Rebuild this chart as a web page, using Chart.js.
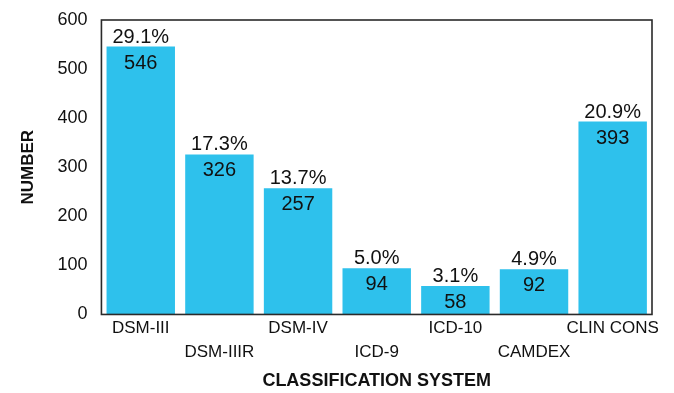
<!DOCTYPE html>
<html>
<head>
<meta charset="utf-8">
<script src="https://cdn.jsdelivr.net/npm/chart.js@4"></script>
<style>
  html, body { margin: 0; padding: 0; background: #fff; }
  #wrap { width: 674px; height: 393px; }
</style>
</head>
<body>
<div id="wrap"><canvas id="chart" width="674" height="393"></canvas></div>
<script>
// Данные диаграммы
const categories = ['DSM-III', 'DSM-IIIR', 'DSM-IV', 'ICD-9', 'ICD-10', 'CAMDEX', 'CLIN CONS'];
const counts = [546, 326, 257, 94, 58, 92, 393];
const percents = ['29.1%', '17.3%', '13.7%', '5.0%', '3.1%', '4.9%', '20.9%'];
const yTicks = [0, 100, 200, 300, 400, 500, 600];

// подписи в два уровня: чётные сверху, нечётные снизу
const xLabels = categories.map((c, i) => i % 2 === 0 ? [c, ''] : ['', c]);

const FONT = '"Liberation Sans", Arial, sans-serif';

// рамка вокруг области графика
const framePlugin = {
    id: 'frame',
    afterDraw(chart) {
        const { ctx, chartArea: a } = chart;
        ctx.save();
        ctx.strokeStyle = '#2a2a2a';
        ctx.lineWidth = 1.6;
        ctx.strokeRect(a.left, a.top, a.right - a.left, a.bottom - a.top);
        ctx.restore();
    }
};

// проценты над столбцами и числа внутри
const barTextPlugin = {
    id: 'barText',
    afterDatasetsDraw(chart) {
        const { ctx } = chart;
        const meta = chart.getDatasetMeta(0);
        ctx.save();
        ctx.fillStyle = '#111';
        ctx.font = '20px ' + FONT;
        ctx.textAlign = 'center';
        ctx.textBaseline = 'alphabetic';
        meta.data.forEach((bar, i) => {
            ctx.fillText(percents[i], bar.x, bar.y - 4);
            ctx.fillText(String(counts[i]), bar.x, bar.y + 22);
        });
        ctx.restore();
    }
};

new Chart(document.getElementById('chart'), {
    type: 'bar',
    data: {
        labels: xLabels,
        datasets: [{
            data: counts,
            backgroundColor: '#2ec1ec',
            borderWidth: 0,
            barPercentage: 0.87,
            categoryPercentage: 1
        }]
    },
    options: {
        responsive: false,
        animation: false,
        layout: { padding: { left: 18, right: 22, top: 20, bottom: 0 } },
        plugins: {
            legend: { display: false },
            tooltip: { enabled: false }
        },
        scales: {
            x: {
                grid: { display: false, drawTicks: false },
                border: { display: false },
                ticks: {
                    color: '#111',
                    font: { family: FONT, size: 17, lineHeight: 1.41 },
                    maxRotation: 0,
                    autoSkip: false,
                    padding: 2
                },
                title: {
                    display: true,
                    text: 'CLASSIFICATION SYSTEM',
                    color: '#111',
                    font: { family: FONT, size: 18, weight: 'bold' },
                    padding: { top: 4, bottom: 1 }
                }
            },
            y: {
                min: 0,
                max: 600,
                afterBuildTicks(axis) {
                    axis.ticks = yTicks.map(v => ({ value: v }));
                },
                afterFit(axis) {
                    axis.paddingTop = 0;
                },
                grid: { display: false, drawTicks: false },
                border: { display: false },
                ticks: {
                    color: '#111',
                    font: { family: FONT, size: 18 },
                    padding: 14
                },
                title: {
                    display: true,
                    text: 'NUMBER',
                    color: '#111',
                    font: { family: FONT, size: 17, weight: 'bold' },
                    padding: { top: 0, bottom: 5 }
                }
            }
        }
    },
    plugins: [barTextPlugin, framePlugin]
});
</script>
</body>
</html>
